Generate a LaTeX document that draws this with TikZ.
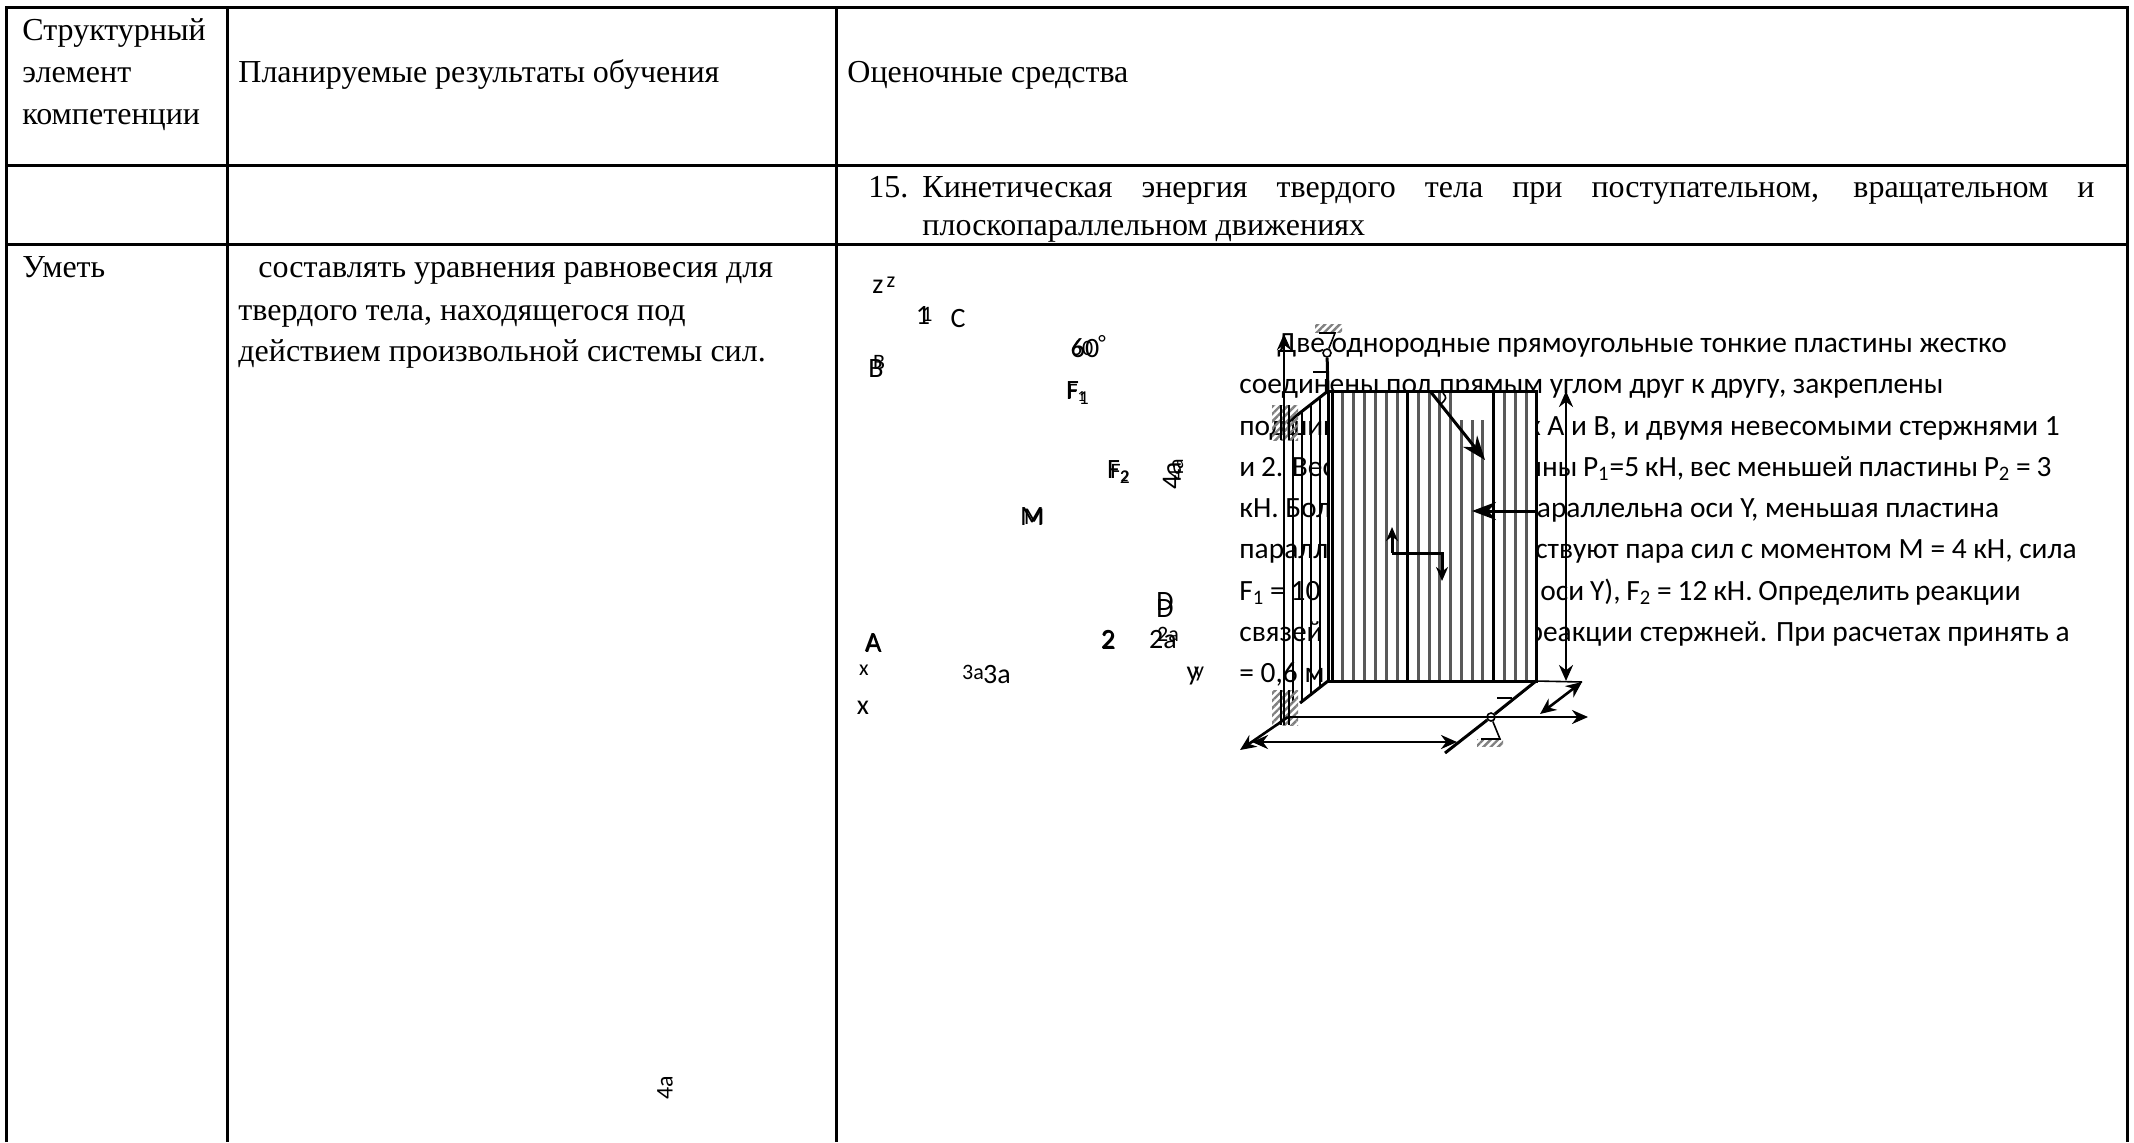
\documentclass[tikz,border=0pt]{standalone}
\usepackage{fontspec}
\setmainfont{Liberation Serif}
\newfontfamily\platefont{Carlito}
\usetikzlibrary{arrows.meta,patterns.meta}

\begin{document}
\begin{tikzpicture}[x=0.5pt,y=-0.5pt]
        \tikzset{TableText/.style={%
            anchor=base west,%
            inner sep=0pt,%
            font=\fontsize{16}{19}\selectfont,%
        }}
        \tikzset{PlateText/.style={%
            anchor=base west,%
            inner sep=0pt,%
            font=\platefont\fontsize{14.7}{17}\selectfont,%
        }}
        \tikzset{BigLabel/.style={%
            inner sep=0pt,%
            font=\platefont\fontsize{14}{17}\selectfont,%
        }}
        \tikzset{SmallLabel/.style={%
            inner sep=0pt,%
            font=\platefont\fontsize{11}{13}\selectfont,%
        }}
        \tikzset{Rule/.style={line width=1.5pt}}
        \tikzset{Thick/.style={line width=1.5pt}}
        \tikzset{Thin/.style={line width=0.8pt}}
        \tikzset{Force/.style={line width=1.5pt,-{Stealth[length=12pt,width=9pt]}}}
        \tikzset{Axis/.style={line width=1.3pt,-{Stealth[length=8pt,width=7pt]}}}
        \tikzset{Size/.style={line width=1.3pt,{Stealth[length=8pt,width=7pt]}-{Stealth[length=8pt,width=7pt]}}}
        \tikzset{Ground/.style={pattern={Lines[angle=45,distance=2.6pt,line width=1.2pt]},pattern color=black!50}}

        \useasboundingbox (0,0) rectangle (2134,1142);

        % table
        \draw[Rule] (6,1142) -- (6,7) -- (2127,7) -- (2127,1142);
        \draw[Rule] (227,7) -- (227,1142);
        \draw[Rule] (836,7) -- (836,1142);
        \draw[Rule] (6,165) -- (2127,165);
        \draw[Rule] (6,244) -- (2127,244);

        \node[TableText] (h1a) at (22,40) {Структурный};
        \node[TableText] (h1b) at (22,82) {элемент};
        \node[TableText] (h1c) at (22,124) {компетенции};
        \node[TableText] (h2) at (238,82) {Планируемые результаты обучения};
        \node[TableText] (h3) at (847,82) {Оценочные средства};
        \node[TableText] (n15) at (868,197) {15.};
        \node[TableText] (q15a) at (922,197) {\makebox[586pt][s]{Кинетическая энергия твердого тела при поступательном, вращательном и}};
        \node[TableText] (q15b) at (922,235) {плоскопараллельном движениях};
        \node[TableText] (skill) at (22,277) {Уметь};
        \node[TableText] (res1) at (258,277) {составлять уравнения равновесия для};
        \node[TableText] (res2) at (238,320) {твердого тела, находящегося под};
        \node[TableText] (res3) at (238,361) {действием произвольной системы сил.};

        % task text
        \node[PlateText] (t1) at (1277,352) {Две однородные прямоугольные тонкие пластины жестко};
        \node[PlateText] (t2) at (1239,393) {соединены под прямым углом друг к другу, закреплены};
        \node[PlateText] (t3) at (1239,435) {подшипниками в точках А и В, и двумя невесомыми стержнями 1};
        \node[PlateText] (t4) at (1239,476) {\makebox[406pt][s]{и 2. Вес большей пластины P\textsubscript{1}=5 кН, вес меньшей пластины P\textsubscript{2} = 3}};
        \node[PlateText] (t5) at (1239,517) {кН. Большая пластина параллельна оси Y, меньшая пластина};
        \node[PlateText] (t6) at (1239,558) {параллельна оси Z. Действуют пара сил с моментом М = 4 кН, сила};
        \node[PlateText] (t7) at (1239,600) {\makebox[390.6pt][s]{F\textsubscript{1} = 10 кН (параллельна оси Y), F\textsubscript{2} = 12 кН. Определить реакции}};
        \node[PlateText] (t8) at (1239,641) {связей в шарнирах А и реакции стержней. При расчетах принять а};
        \node[PlateText] (t9) at (1239,682) {= 0,6 м};

        % stray labels
        \node[BigLabel] (zb) at (878,287) {z};
        \node[SmallLabel] (zs) at (891,282) {z};
        \node[BigLabel] (oneb) at (923,315) {1};
        \node[SmallLabel] (ones) at (927,314) {1};
        \node[BigLabel] (cb) at (958,318) {C};
        \node[BigLabel] (bb) at (876,369) {B};
        \node[SmallLabel] (bs) at (879,362) {B};
        \node[BigLabel] (angb) at (1085,348) {60};
        \node[SmallLabel] (angs) at (1082,348) {60};
        \node[SmallLabel] (deg) at (1102,343) {\textdegree};
        \node[BigLabel] (fab) at (1078,393) {F\textsubscript{1}};
        \node[SmallLabel] (fas) at (1077,393) {F\textsubscript{1}};
        \node[BigLabel] (fbb) at (1119,472) {F\textsubscript{2}};
        \node[SmallLabel] (fbs) at (1120,473) {F\textsubscript{2}};
        \node[BigLabel,rotate=90] (fourb) at (1172,476) {4a};
        \node[SmallLabel,rotate=90] (fours) at (1176,470) {4a};
        \node[SmallLabel,font=\platefont\fontsize{12}{14}\selectfont,rotate=90] (fourc) at (665,1088) {4a};
        \node[BigLabel] (mb) at (1032,517) {M};
        \node[SmallLabel,font=\platefont\fontsize{12}{14}\selectfont] (ms) at (1034,517) {M};
        \node[BigLabel] (ab) at (873,643) {A};
        \node[BigLabel] (as) at (873.6,644) {A};
        \node[SmallLabel] (xs) at (864,670) {x};
        \node[BigLabel] (xb) at (863,708) {x};
        \node[SmallLabel] (ths) at (973,672) {3a};
        \node[BigLabel] (thb) at (997,674) {3a};
        \node[BigLabel] (twob) at (1108,639) {2};
        \node[BigLabel] (twos) at (1108.6,640) {2};
        \node[BigLabel] (twoab) at (1163,640) {2a};
        \node[SmallLabel] (twoas) at (1168,634) {2a};
        \node[BigLabel] (db) at (1165,602) {D};
        \node[BigLabel] (ds) at (1165,609) {D};
        \node[BigLabel] (yb) at (1193,676) {y};
        \node[SmallLabel] (ys) at (1199,674) {y};

        % points of the plates
        \coordinate (p1) at (1328,391);
        \coordinate (p2) at (1536,391);
        \coordinate (p3) at (1536,681);
        \coordinate (p4) at (1328,681);
        \coordinate (s1) at (1287,423);
        \coordinate (s2) at (1300,703);
        \coordinate (o) at (1288,717);

        % big plate covers the text
        \fill[white] (p1) rectangle (p3);
        \foreach \hx in {1342,1353,1364,1375,1386,1397,1418,1429,1439,1450,1504,1515,1526}
            \draw[Thick,black!65] (\hx,391) -- (\hx,681);
        \foreach \hx in {1461,1472,1482}
            \draw[Thick,black!65] (\hx,420) -- (\hx,681);
        \foreach \hx in {1332,1407,1493}
            \draw[Thick] (\hx,391) -- (\hx,681);
        \draw[Thick] (p1) -- (p2) -- (p3) -- (p4) -- cycle;

        % small plate
        \foreach \hx/\hy/\hz in {1293/418/703,1302/412/703,1311/405/696,1320/398/688}
            \draw[Thin] (\hx,\hy) -- (\hx,\hz);
        \draw[Thick] (p1) -- (s1);
        \draw[Thick] (p4) -- (s2);

        % hinges
        \path[Ground] (1272,405) rectangle (1298,440);
        \path[Ground] (1272,690) rectangle (1298,725);
        \draw[Thin] (1281,405) -- (1281,440);
        \draw[Thin] (1289,405) -- (1289,440);
        \draw[Thin] (1281,690) -- (1281,725);
        \draw[Thin] (1289,690) -- (1289,725);

        % rod 1
        \node[draw,circle,line width=0.8pt,inner sep=0pt,minimum size=4pt] (pin1) at (1327,353) {};
        \path[Ground] (1315,324) rectangle (1342,332);
        \draw[Thin] (1319,333) -- (1335,333) -- (pin1) -- cycle;
        \draw[Thick] (pin1) -- (p1);
        \draw[Thin] (1313,372) -- (1327,372);

        % rod 2
        \coordinate (r2e) at (1445,753);
        \node[draw,circle,line width=0.8pt,inner sep=0pt,minimum size=4pt] (pin2) at (1491,717) {};
        \path[Ground] (1477,739) rectangle (1503,746);
        \draw[Thin] (1481,739) -- (1500,739) -- (pin2) -- cycle;
        \draw[Thick] (p3) -- (pin2) -- (r2e);
        \draw[Thin] (1497,698) -- (1512,698);

        % axes
        \coordinate (zt) at (1284,334);
        \coordinate (zo) at (1284,725);
        \coordinate (yt) at (1588,717);
        \coordinate (xt) at (1240,750);
        \draw[Axis] (zo) -- (zt);
        \draw[Axis] (o) -- (yt);
        \draw[Axis] (o) -- (xt);

        % sizes
        \coordinate (d1a) at (1566,391);
        \coordinate (d1b) at (1566,681);
        \coordinate (e1) at (1582,682);
        \coordinate (d2) at (1540,714);
        \coordinate (d3a) at (1252,742);
        \coordinate (d3b) at (1457,742);
        \draw[Thin] (p3) -- (e1);
        \draw[Size] (d1a) -- (d1b);
        \draw[Size] (e1) -- (d2);
        \draw[Size] (d3a) -- (d3b);

        % forces
        \coordinate (f1a) at (1430,391);
        \coordinate (f1b) at (1485,460);
        \coordinate (f2a) at (1536,511);
        \coordinate (f2b) at (1472,511);
        \draw[Force] (f1a) -- (f1b);
        \draw[Force] (f2a) -- (f2b);
        \draw[Thin] (1443,393) .. controls (1447,398) .. (1440,405);
        \coordinate (m1) at (1392,527);
        \coordinate (m2) at (1392,553);
        \coordinate (m3) at (1442,553);
        \coordinate (m4) at (1442,581);
        \draw[Thick,-{Stealth[length=7pt,width=6pt]}] (m2) -- (m1);
        \draw[Thick,-{Stealth[length=7pt,width=6pt]}] (m2) -- (m3) -- (m4);
\end{tikzpicture}
\end{document}
